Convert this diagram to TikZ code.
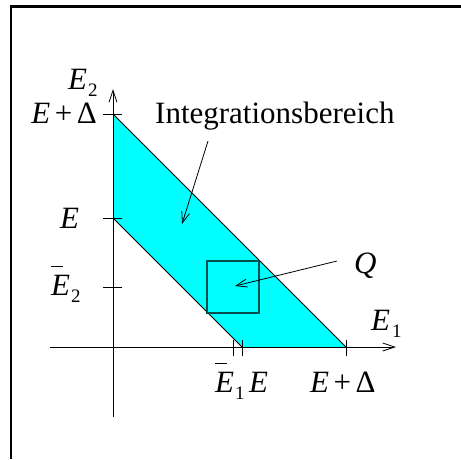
\documentclass[tikz,border=0pt]{standalone}
\usepackage{fontspec}
\setmainfont{Liberation Serif}
\usetikzlibrary{arrows.meta}
\definecolor{aquafill}{RGB}{0,255,255}
\definecolor{sqline}{RGB}{0,80,80}
\newcommand{\mysub}[1]{\raisebox{-7pt}{\fontsize{19}{21}\selectfont #1}}
\newcommand{\mybarE}{\makebox[0pt][l]{\raisebox{28pt}{\rule{12pt}{0.9pt}}}\textit{E}}
\newcommand{\myEplusD}{\textit{E}\kern4.5pt+\kern4.5pt Δ}
\begin{document}
\begin{tikzpicture}[x=1pt,y=-1pt,
  lab/.style={inner sep=0pt, font=\fontsize{31}{37}\selectfont},
  axisline/.style={line width=1pt, -{Straight Barb[length=12pt,width=8pt,line width=0.8pt]}},
  pointer/.style={line width=0.8pt, -{Straight Barb[length=11pt,width=8pt,line width=0.8pt]}},
  tick/.style={line width=0.9pt},
  edge/.style={line width=0.9pt},
  frame/.style={line width=2.4pt}
]
\useasboundingbox (0,0) rectangle (461,459);
% frame
\coordinate (fbl) at (11,459);
\coordinate (ftl) at (11,6.5);
\coordinate (ftr) at (461,6.5);
\draw[frame] (fbl) -- (ftl) -- (ftr);
% region corners
\coordinate (top) at (113,114);
\coordinate (mid) at (113,218);
\coordinate (bl) at (242,347);
\coordinate (br) at (346,347);
\fill[aquafill] (top) -- (mid) -- (bl) -- (br) -- cycle;
\draw[edge] (top) -- (br);
\draw[edge] (mid) -- (bl);
% square Q
\coordinate (sq1) at (207,261);
\coordinate (sq2) at (259,313);
\draw[line width=1.1pt, sqline] (sq1) rectangle (sq2);
% axes
\coordinate (xs) at (50,347);
\coordinate (xe) at (396,347);
\coordinate (ys) at (113,417);
\coordinate (ye) at (113,89);
\draw[axisline] (xs) -- (xe);
\draw[axisline] (ys) -- (ye);
% ticks on vertical axis
\foreach \yy/\nm in {114/tyA,218/tyB,287/tyC}{
  \coordinate (\nm l) at (103,\yy);
  \coordinate (\nm r) at (122,\yy);
  \draw[tick] (\nm l) -- (\nm r);
}
% ticks on horizontal axis
\foreach \xx/\nm in {233/txA,242/txB,346/txC}{
  \coordinate (\nm t) at (\xx,340);
  \coordinate (\nm b) at (\xx,356);
  \draw[tick] (\nm t) -- (\nm b);
}
% labels
\node[lab, anchor=base west] (Etwo) at (68,89) {\textit{E}\kern1pt\mysub{2}};
\node[lab, anchor=base east] (EDy) at (97,123) {\myEplusD};
\node[lab, anchor=base west] (Ey) at (60,228) {\textit{E}};
\node[lab, anchor=base west] (Ebartwo) at (51,295) {\mybarE\kern1pt\mysub{2}};
\node[lab, anchor=base west] (Eone) at (371,330) {\textit{E}\kern2pt\mysub{1}};
\node[lab, anchor=base west] (Ebarone) at (215,392) {\mybarE\kern1pt\mysub{1}};
\node[lab, anchor=base west] (Ex) at (249,392) {\textit{E}};
\node[lab, anchor=base west] (EDx) at (310,392) {\myEplusD};
\node[lab, anchor=base west] (Qlab) at (354,273) {\textit{Q}};
\node[lab, anchor=base west] (Int) at (155,123) {Integrationsbereich};
% pointers
\coordinate (intstart) at (208,141);
\coordinate (inttip) at (182,224);
\draw[pointer] (intstart) -- (inttip);
\coordinate (qstart) at (337,261);
\coordinate (qtip) at (235,286);
\draw[pointer] (qstart) -- (qtip);
\end{tikzpicture}
\end{document}
